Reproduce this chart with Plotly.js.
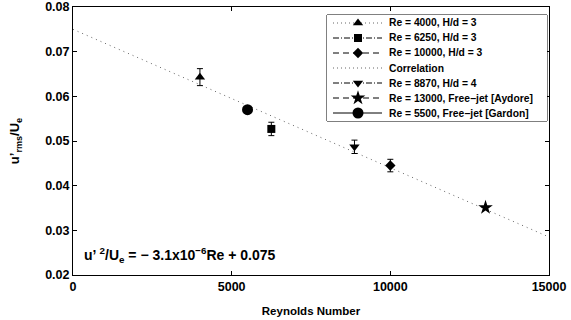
<!DOCTYPE html>
<html><head><meta charset="utf-8">
<script src="https://cdn.plot.ly/plotly-3.0.1.min.js"></script>
<style>html,body{margin:0;padding:0;background:#fff}#chart{width:571px;height:320px}</style>
</head><body><div id="chart"></div>
<script>
// ---- data ----
const seriesNames = ["Re = 4000, H/d = 3","Re = 6250, H/d = 3","Re = 10000, H/d = 3","Correlation","Re = 8870, H/d = 4","Re = 13000, Free\u2212jet [Aydore]","Re = 5500, Free\u2212jet [Gardon]"];
const reynolds   = [4000, 6250, 10000, null, 8870, 13000, 5500];
const uRms       = [0.0643, 0.0527, 0.0445, null, 0.0487, 0.0351, 0.0570];
const uRmsErr    = [0.0019, 0.0015, 0.0014, null, 0.0015, 0, 0];
const corrSlope = -3.1e-6, corrIntercept = 0.075;
const corrRe = [0, 15000];
const corrU = corrRe.map(r => corrSlope * r + corrIntercept);
const xTicks = [0, 5000, 10000, 15000];
const yTicks = [0.02, 0.03, 0.04, 0.05, 0.06, 0.07, 0.08];

// ---- styles ----
const symbols = ["triangle-up","square","diamond",null,"triangle-down","star","circle"];
const sizes   = [9, 8, 8, 0, 9, 11, 11];
const dashes  = ["1px,3px","6px,2px,1px,2px","6px,4px","1px,3px","6px,2px,1px,2px","6px,4px","solid"];
const font = {family: "Arial, Liberation Sans, sans-serif", color: "#000", weight: 700};
const b = s => "<b>" + s + "</b>";

const traces = [];
traces.push({x: corrRe, y: corrU, mode: "lines", line: {color: "#666", width: 1, dash: "1px,4px"},
  showlegend: false, hoverinfo: "skip", xaxis: "x", yaxis: "y"});
seriesNames.forEach((n, i) => {
  if (reynolds[i] === null) return;
  traces.push({x: [reynolds[i]], y: [uRms[i]], mode: "markers", name: n, showlegend: false,
    marker: {symbol: symbols[i], size: sizes[i], color: "#000", line: {width: 0}},
    error_y: uRmsErr[i] > 0 ? {type: "data", array: [uRmsErr[i]], visible: true, color: "#000", thickness: 1, width: 3} : {visible: false},
    xaxis: "x", yaxis: "y"});
});

const legRowH = 15, legTop = 8;
const annotations = [];
seriesNames.forEach((n, i) => {
  const yy = legTop + legRowH * i;
  traces.push({x: [6, 31, 55], y: [yy, yy, yy], mode: "lines", xaxis: "x2", yaxis: "y2",
    line: {color: dashes[i] === "1px,3px" ? "#666" : "#000", width: 1, dash: dashes[i]},
    showlegend: false, hoverinfo: "skip"});
  if (symbols[i]) traces.push({x: [31], y: [yy], mode: "markers", xaxis: "x2", yaxis: "y2",
    marker: {symbol: symbols[i], size: sizes[i], color: "#000", line: {width: 0}}, showlegend: false, hoverinfo: "skip"});
  annotations.push({x: 60, y: yy, xref: "x2", yref: "y2", text: b(n), showarrow: false, xanchor: "left", yanchor: "middle",
    font: Object.assign({}, font, {size: 10.3})});
});

annotations.push({x: 0.018, y: 0.075, xref: "paper", yref: "paper", xanchor: "left", yanchor: "middle", showarrow: false,
  text: b("u\u2019 <sup>2</sup>/U<sub>e</sub> = \u2212 3.1x10<sup>\u22126</sup>Re + 0.075"),
  font: Object.assign({}, font, {size: 14})});

const W = 571, H = 320, mL = 73, mR = 22, mT = 7, mB = 45;
const pw = W - mL - mR, ph = H - mT - mB;
const legL = 327, legR = 547, legT = 15, legB = 121;
const px2x = p => (p - mL) / pw, px2y = p => 1 - (p - mT) / ph;

const layout = {
  width: W, height: H, margin: {l: mL, r: mR, t: mT, b: mB},
  paper_bgcolor: "#fff", plot_bgcolor: "#fff", showlegend: false,
  font: Object.assign({}, font, {size: 12}),
  xaxis: {range: [0, 15000], tickvals: xTicks, ticktext: xTicks.map(v => b(String(v))), ticks: "inside", ticklen: 4, tickcolor: "#000",
    showline: true, linecolor: "#000", linewidth: 1, mirror: "allticks", showgrid: false, zeroline: false,
    tickfont: Object.assign({}, font, {size: 12.5}),
    title: {text: b("Reynolds Number"), font: Object.assign({}, font, {size: 11.5}), standoff: 13}},
  yaxis: {range: [0.02, 0.08], tickvals: yTicks, ticktext: yTicks.map(v => b(v.toFixed(2))), ticks: "inside", ticklen: 4, tickcolor: "#000",
    showline: true, linecolor: "#000", linewidth: 1, mirror: "allticks", showgrid: false, zeroline: false,
    tickfont: Object.assign({}, font, {size: 12.5}),
    title: {text: b("u\u2019<sub>rms</sub>/U<sub>e</sub>"), font: Object.assign({}, font, {size: 13}), standoff: 22}},
  xaxis2: {domain: [px2x(legL), px2x(legR)], range: [0, legR - legL], visible: false, fixedrange: true, anchor: "y2"},
  yaxis2: {domain: [px2y(legB), px2y(legT)], range: [legB - legT, 0], visible: false, fixedrange: true, anchor: "x2"},
  shapes: [{type: "rect", xref: "paper", yref: "paper", x0: px2x(legL), x1: px2x(legR), y0: px2y(legB), y1: px2y(legT),
    line: {color: "#000", width: 1}, fillcolor: "#fff", layer: "below"}],
  annotations: annotations
};

Plotly.newPlot("chart", traces, layout, {displayModeBar: false, staticPlot: true});
</script></body></html>
